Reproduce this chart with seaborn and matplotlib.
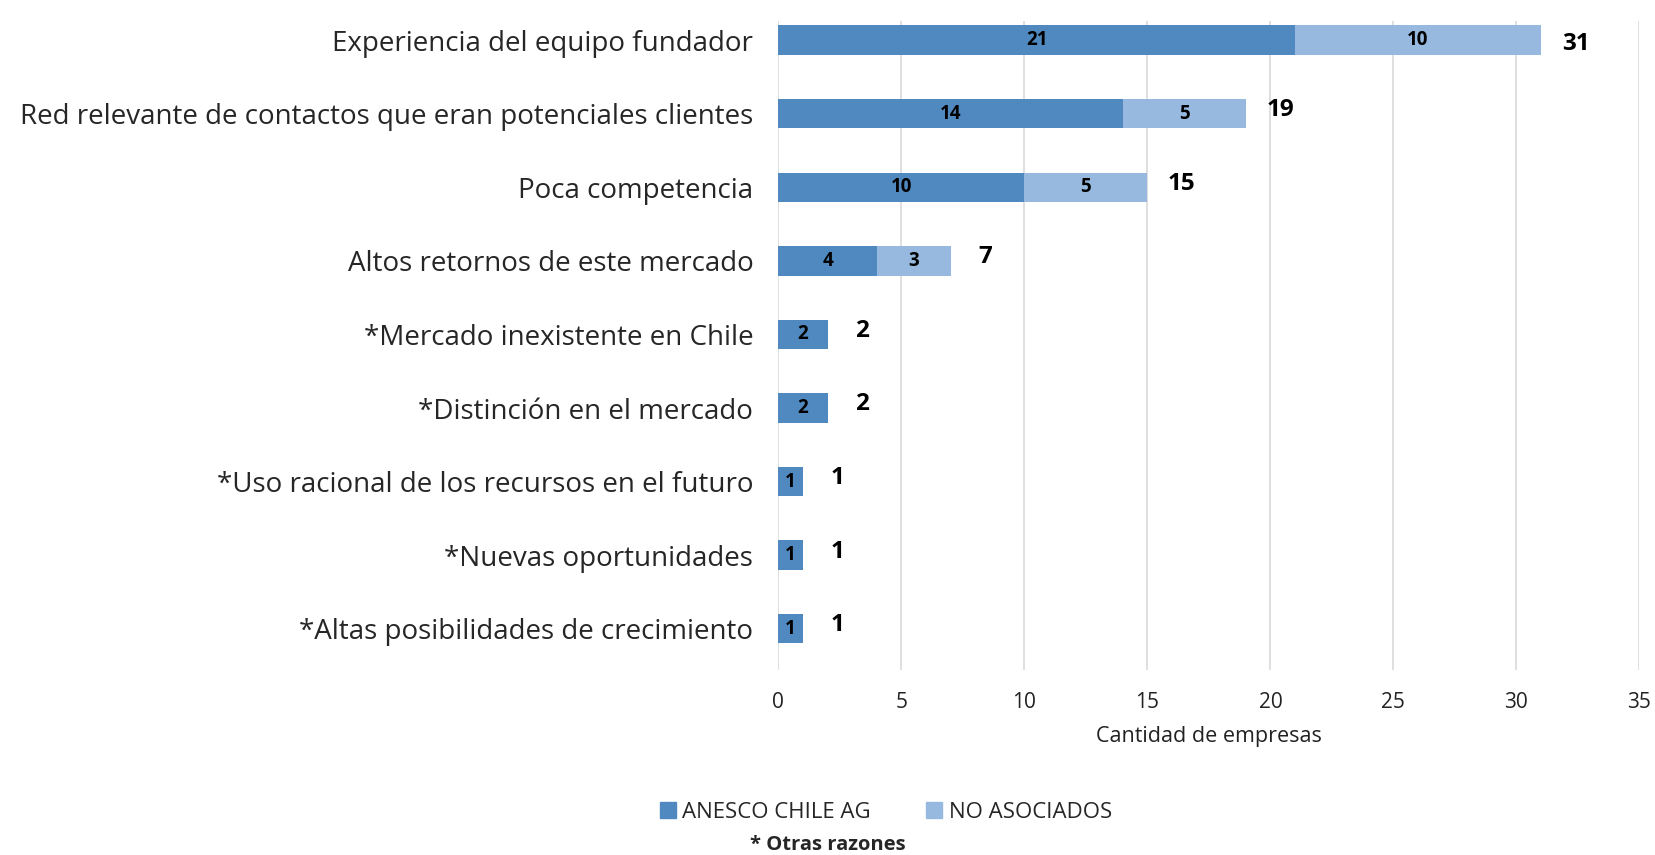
import numpy as np
import pandas as pd
import matplotlib
matplotlib.use("Agg")
import matplotlib.pyplot as plt
import seaborn as sns
from matplotlib.patches import Patch

DARK = '#4F89BF'
LIGHT = '#97B9E0'

categories = ['Experiencia del equipo fundador',
              'Red relevante de contactos que eran potenciales clientes',
              'Poca competencia',
              'Altos retornos de este mercado',
              '*Mercado inexistente en Chile',
              '*Distinción en el mercado',
              '*Uso racional de los recursos en el futuro',
              '*Nuevas oportunidades',
              '*Altas posibilidades de crecimiento']
anesco = [21, 14, 10, 4, 2, 2, 1, 1, 1]
no_asociados = [10, 5, 5, 3, 0, 0, 0, 0, 0]
ticks = [0, 5, 10, 15, 20, 25, 30, 35]

df = pd.DataFrame({'razon': categories, 'anesco': anesco, 'no_asociados': no_asociados})
df['total'] = df['anesco'] + df['no_asociados']

sns.set_style('white')
plt.rcParams['font.family'] = ['Open Sans', 'DejaVu Sans']

fig = plt.figure(figsize=(16.56, 8.55), dpi=100)
ax = fig.add_axes([0.470, 0.2164, 0.520, 0.759])

# light bar = total, dark bar drawn over it
sns.barplot(data=df, y='razon', x='total', color=LIGHT, orient='h', width=0.4,
            saturation=1, linewidth=0, ax=ax)
sns.barplot(data=df, y='razon', x='anesco', color=DARK, orient='h', width=0.4,
            saturation=1, linewidth=0, ax=ax)

# inner labels
light_c, dark_c = ax.containers[0], ax.containers[1]
for bar, v, t in zip(light_c, df['no_asociados'], df['total']):
    if v > 0:
        ax.text(t - v / 2, bar.get_y() + bar.get_height() / 2, str(v), ha='center',
                va='center', fontsize=13.5, fontweight='bold', color='black')
for bar, v in zip(dark_c, df['anesco']):
    ax.text(v / 2, bar.get_y() + bar.get_height() / 2, str(v), ha='center',
            va='center', fontsize=13.5, fontweight='bold', color='black')

# totals
for i, t in enumerate(df['total']):
    dy = 0.05 if i == 0 else -0.05
    ax.text(t + 1.4, i + dy, str(t), ha='center', va='center', fontsize=17.5,
            fontweight='bold', color='black')

ax.set_xlim(0, 35)
ax.set_ylim(8.56, -0.26)
ax.set_xticks(ticks)
ax.set_xticklabels([str(t) for t in ticks], fontsize=15, color='#222222')
ax.tick_params(axis='x', length=0, pad=16)
ax.tick_params(axis='y', length=0, pad=18, labelsize=20)
ax.set_ylabel('')
ax.set_xlabel('Cantidad de empresas', fontsize=15.5, color='#222222', labelpad=9)
ax.grid(axis='x', color='#D9D9D9', linewidth=1.2)
ax.set_axisbelow(True)
for s in ax.spines.values():
    s.set_visible(False)

handles = [Patch(color=DARK, label='ANESCO CHILE AG'),
           Patch(color=LIGHT, label='NO ASOCIADOS')]
fig.legend(handles=handles, loc='center', bbox_to_anchor=(0.535, 0.05), ncol=2,
           frameon=False, fontsize=16, handlelength=0.7, handleheight=0.7,
           handletextpad=0.3, columnspacing=2.5)
fig.text(0.50, 0.012, '* Otras razones', ha='center', va='center', fontsize=14.5,
         fontweight='bold')

fig.savefig('out.png', dpi=100)
